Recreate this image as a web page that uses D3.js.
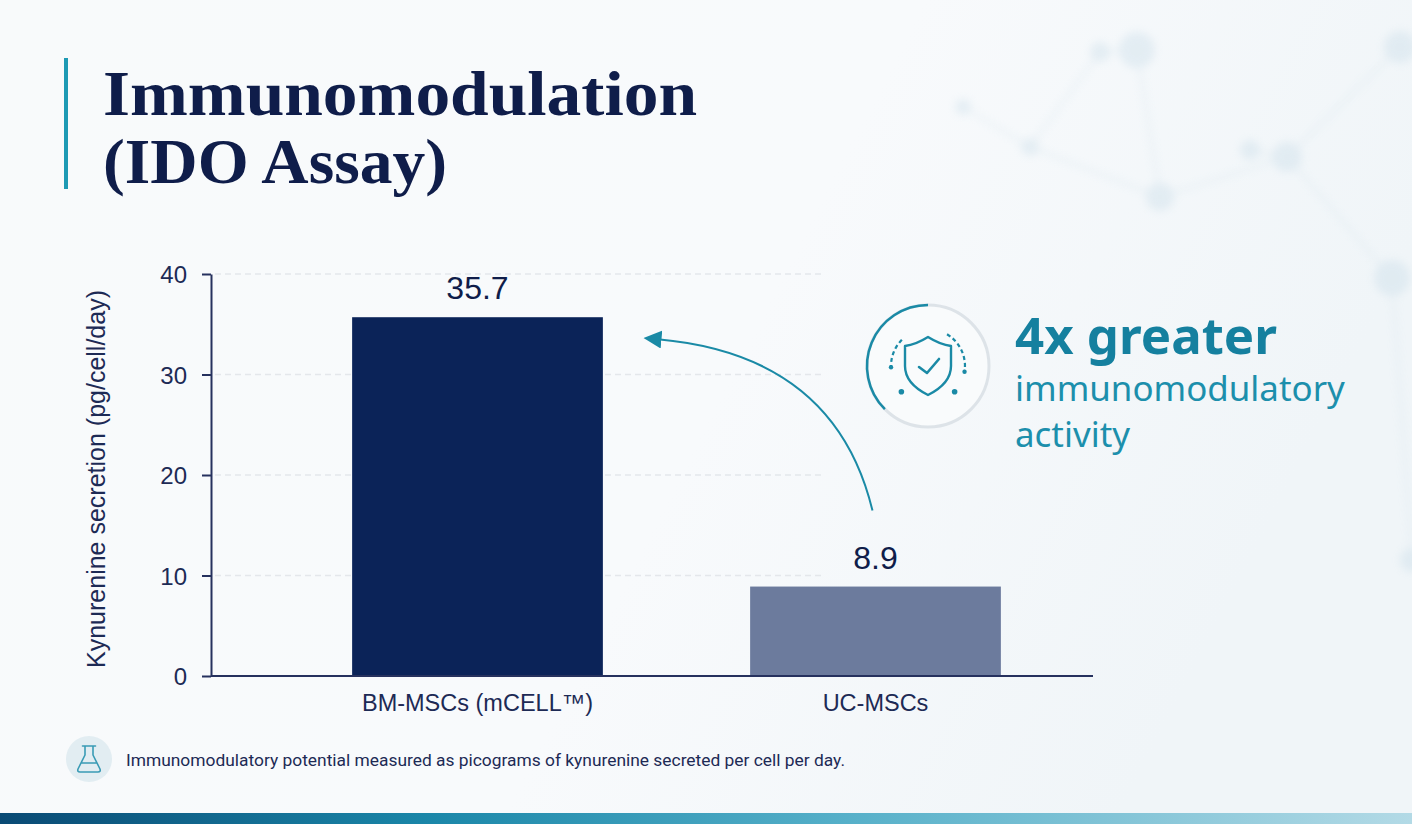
<!DOCTYPE html>
<html>
<head>
<meta charset="utf-8">
<script src="https://cdn.jsdelivr.net/npm/d3@7"></script>
<style>
  html, body { margin: 0; padding: 0; background: #f7f9fb; }
  svg { display: block; }
</style>
</head>
<body>
<svg id="chart" width="1412" height="824"></svg>
<script>
const navy = "#0f1d4a";
const teal = "#1a8aa6";
const axisColor = "#26315e";

// chart data
const categories = ["BM-MSCs (mCELL™)", "UC-MSCs"];
const values = [35.7, 8.9];
const valueLabels = ["35.7", "8.9"];
const barColors = ["#0b2358", "#6c7b9d"];
const yTicks = [0, 10, 20, 30, 40];
const yDomain = [0, 40];

// decorative background network (top right)
const netNodes = [[1137, 50, 18], [1100, 52, 10], [1400, 47, 16], [1160, 197, 14], [1287, 157, 15],
                  [1250, 150, 10], [1392, 278, 18], [1030, 147, 9], [963, 107, 8], [1412, 560, 12]];
const netLinks = [[0, 1], [0, 3], [3, 4], [4, 2], [4, 6], [1, 7], [7, 8], [3, 7], [4, 5], [6, 9]];

const svg = d3.select("#chart");

// scale a text's font size so that it spans the given width
const fitWidth = (sel, w) => {
    const len = sel.node().getComputedTextLength();
    const fs = parseFloat(sel.attr("font-size"));
    sel.attr("font-size", fs * w / len);
};

drawBackground();
drawTitle();
drawChart();
drawCallout();
drawFooter();

function drawBackground() {
    const defs = svg.append("defs");
    const bg = defs.append("linearGradient").attr("id", "bg").attr("x1", 0).attr("y1", 0).attr("x2", 1).attr("y2", 0.3);
    bg.append("stop").attr("offset", 0).attr("stop-color", "#f8fafb");
    bg.append("stop").attr("offset", 0.6).attr("stop-color", "#f8fafc");
    bg.append("stop").attr("offset", 1).attr("stop-color", "#f0f5f8");
    defs.append("filter").attr("id", "blur")
        .append("feGaussianBlur").attr("stdDeviation", 4);

    const bar = defs.append("linearGradient").attr("id", "bottomBar");
    bar.append("stop").attr("offset", 0).attr("stop-color", "#0a4a74");
    bar.append("stop").attr("offset", 0.3).attr("stop-color", "#1a86a8");
    bar.append("stop").attr("offset", 0.6).attr("stop-color", "#56b0c9");
    bar.append("stop").attr("offset", 1).attr("stop-color", "#b3dae6");

    svg.append("rect").attr("width", 1412).attr("height", 824).attr("fill", "url(#bg)");

    const net = svg.append("g").attr("filter", "url(#blur)").attr("opacity", 0.35);
    net.selectAll("line")
        .data(netLinks)
        .enter()
        .append("line")
        .attr("x1", d => netNodes[d[0]][0]).attr("y1", d => netNodes[d[0]][1])
        .attr("x2", d => netNodes[d[1]][0]).attr("y2", d => netNodes[d[1]][1])
        .attr("stroke", "#c9dce7")
        .attr("stroke-width", 2.5);
    net.selectAll("circle")
        .data(netNodes)
        .enter()
        .append("circle")
        .attr("cx", d => d[0]).attr("cy", d => d[1]).attr("r", d => d[2])
        .attr("fill", "#c3d9e6");

    svg.append("rect").attr("x", 0).attr("y", 813).attr("width", 1412).attr("height", 11)
        .attr("fill", "url(#bottomBar)");
}

function drawTitle() {
    svg.append("rect").attr("x", 64).attr("y", 58).attr("width", 4).attr("height", 131).attr("fill", "#1e9ab4");
    const lines = [["Immunomodulation", 115, 594], ["(IDO Assay)", 183, 344]];
    lines.forEach(([txt, base, w]) => {
        svg.append("text")
            .attr("x", 103).attr("y", base)
            .attr("font-family", "Liberation Serif, serif")
            .attr("font-weight", 700)
            .attr("font-size", 64)
            .attr("textLength", w)
            .attr("lengthAdjust", "spacingAndGlyphs")
            .attr("fill", navy)
            .text(txt);
    });
}

function drawChart() {
    const x0 = 211, x1 = 1093, yTop = 274, yBottom = 676;

    const x = d3.scaleBand()
        .domain(categories)
        .range([278.5, 1074.5])
        .paddingInner(0.37)
        .paddingOuter(0.185);
    const y = d3.scaleLinear().domain(yDomain).range([yBottom, yTop]);

    // dashed gridlines
    svg.append("g")
        .selectAll("line")
        .data(yTicks.filter(d => d > 0))
        .enter()
        .append("line")
        .attr("x1", x0 + 4).attr("x2", 825)
        .attr("y1", d => y(d)).attr("y2", d => y(d))
        .attr("stroke", "#e4e7eb")
        .attr("stroke-width", 1.5)
        .attr("stroke-dasharray", "6 4");

    // bars
    svg.append("g")
        .selectAll("rect")
        .data(categories)
        .enter()
        .append("rect")
        .attr("x", d => x(d))
        .attr("width", x.bandwidth())
        .attr("y", (d, i) => y(values[i]))
        .attr("height", (d, i) => y(0) - y(values[i]))
        .attr("fill", (d, i) => barColors[i]);

    // value labels
    svg.append("g")
        .selectAll("text")
        .data(categories)
        .enter()
        .append("text")
        .attr("x", d => x(d) + x.bandwidth() / 2)
        .attr("y", (d, i) => y(values[i]) - 18)
        .attr("text-anchor", "middle")
        .attr("font-family", "Liberation Sans, Arial, sans-serif")
        .attr("font-size", 32)
        .attr("fill", navy)
        .text((d, i) => valueLabels[i]);

    // y axis
    const yAxis = svg.append("g")
        .attr("transform", `translate(${ x0 },0)`)
        .call(d3.axisLeft(y).tickValues(yTicks).tickSize(9).tickPadding(15).tickSizeOuter(0));
    yAxis.select(".domain").attr("stroke", axisColor).attr("stroke-width", 2);
    yAxis.selectAll(".tick line").attr("stroke", axisColor).attr("stroke-width", 2);
    yAxis.selectAll(".tick text")
        .attr("font-family", "Liberation Sans, Arial, sans-serif")
        .attr("font-size", 24)
        .attr("fill", "#1d2a55")
        .attr("dy", "0.36em");

    // x axis
    const xAxis = svg.append("g")
        .attr("transform", `translate(0,${ yBottom })`)
        .call(d3.axisBottom(x).tickSize(0).tickPadding(18));
    xAxis.select(".domain").attr("d", `M${ x0 },0H${ x1 }`).attr("stroke", axisColor).attr("stroke-width", 2);
    xAxis.selectAll(".tick text")
        .attr("font-family", "Liberation Sans, Arial, sans-serif")
        .attr("font-size", 23.5)
        .attr("fill", "#1d2a55");

    // y axis title
    const yLabel = svg.append("text")
        .attr("transform", `translate(105, ${ (290 + 668) / 2 }) rotate(-90)`)
        .attr("text-anchor", "middle")
        .attr("font-family", "Liberation Sans, Arial, sans-serif")
        .attr("font-size", 21)
        .attr("fill", "#1d2a55")
        .text("Kynurenine secretion (pg/cell/day)");
    fitWidth(yLabel, 378);

    // curved arrow from the UC bar up towards the BM bar
    svg.append("defs").append("marker")
        .attr("id", "arrowHead")
        .attr("viewBox", "0 0 10 10")
        .attr("refX", 2).attr("refY", 5)
        .attr("markerWidth", 18).attr("markerHeight", 18)
        .attr("markerUnits", "userSpaceOnUse")
        .attr("orient", "auto")
        .append("path")
        .attr("d", "M0,0 L10,5 L0,10 Z")
        .attr("fill", teal);
    const start = [x(categories[1]) + x.bandwidth() / 2 - 3, y(values[1]) - 76];
    const end = [x(categories[0]) + x.bandwidth() + 55, y(values[0]) + 22];
    const p = d3.path();
    p.moveTo(start[0], start[1]);
    p.quadraticCurveTo(835, 355, end[0], end[1]);
    svg.append("path")
        .attr("d", p.toString())
        .attr("fill", "none")
        .attr("stroke", teal)
        .attr("stroke-width", 2)
        .attr("marker-end", "url(#arrowHead)");
}

function drawCallout() {
    const cx = 928, cy = 366, r = 61;
    const g = svg.append("g").attr("transform", `translate(${ cx },${ cy })`);
    g.append("circle").attr("r", r).attr("fill", "#f9fbfc").attr("stroke", "#dde3e8").attr("stroke-width", 3);
    g.append("path")
        .attr("d", d3.arc()({ innerRadius: r, outerRadius: r, startAngle: -Math.PI * 0.75, endAngle: 0 }))
        .attr("fill", "none").attr("stroke", teal).attr("stroke-width", 2.5);

    // shield with check
    g.append("path")
        .attr("d", "M0,-29 C8,-24 15,-21 23,-20 L23,0 C23,14 12,23 0,29 C-12,23 -23,14 -23,0 L-23,-20 C-15,-21 -8,-24 0,-29 Z")
        .attr("fill", "none").attr("stroke", teal).attr("stroke-width", 2.4).attr("stroke-linejoin", "round");
    g.append("path").attr("d", "M-9,1 L-1,7 L11,-7")
        .attr("fill", "none").attr("stroke", teal).attr("stroke-width", 2.6).attr("stroke-linecap", "round").attr("stroke-linejoin", "round");

    // dashed orbit arcs with end dots (angles clockwise from 12 o'clock, degrees)
    const orbitR = 37;
    const pt = a => [orbitR * Math.sin(a * Math.PI / 180), -orbitR * Math.cos(a * Math.PI / 180)];
    [[-45, -92, -134], [31, 99, 134]].forEach(([a0, a1, dot]) => {
        const ang = d3.range(0, 1.0001, 1 / 12).map(t => a0 + (a1 - a0) * t);
        g.append("path")
            .attr("d", d3.line()(ang.map(pt)))
            .attr("fill", "none").attr("stroke", teal).attr("stroke-width", 2.2).attr("stroke-dasharray", "4 3");
        g.append("circle").attr("cx", pt(a1)[0]).attr("cy", pt(a1)[1]).attr("r", 2.2).attr("fill", teal);
        g.append("circle").attr("cx", pt(dot)[0]).attr("cy", pt(dot)[1]).attr("r", 2.8).attr("fill", teal);
    });

    const big = svg.append("text")
        .attr("x", 1015).attr("y", 354)
        .attr("font-family", "Noto Sans, sans-serif")
        .attr("font-weight", 700)
        .attr("font-size", 46)
        .attr("fill", "#15809f")
        .text("4x greater");
    fitWidth(big, 262);
    const sub1 = svg.append("text")
        .attr("x", 1015).attr("y", 401)
        .attr("font-family", "Noto Sans, sans-serif")
        .attr("font-size", 34)
        .attr("fill", "#1c8fac")
        .text("immunomodulatory");
    fitWidth(sub1, 330);
    svg.append("text")
        .attr("x", 1015).attr("y", 447)
        .attr("font-family", "Noto Sans, sans-serif")
        .attr("font-size", sub1.attr("font-size"))
        .attr("fill", "#1c8fac")
        .text("activity");
}

function drawFooter() {
    const g = svg.append("g").attr("transform", "translate(89,759)");
    g.append("circle").attr("r", 23).attr("fill", "#e2edf2");
    g.append("path")
        .attr("d", "M-4,-13 L-4,-4 L-11,10 Q-12,13 -9,13 L9,13 Q12,13 11,10 L4,-4 L4,-13 M-6.5,-13 L6.5,-13 M-7.5,4 L7.5,4")
        .attr("fill", "none").attr("stroke", "#3a9bb5").attr("stroke-width", 1.6).attr("stroke-linejoin", "round").attr("stroke-linecap", "round");
    const note = svg.append("text")
        .attr("x", 126).attr("y", 766)
        .attr("font-family", "Roboto, sans-serif")
        .attr("font-size", 16)
        .attr("fill", "#1d2a55")
        .text("Immunomodulatory potential measured as picograms of kynurenine secreted per cell per day.");
    fitWidth(note, 720);
}
</script>
</body>
</html>
